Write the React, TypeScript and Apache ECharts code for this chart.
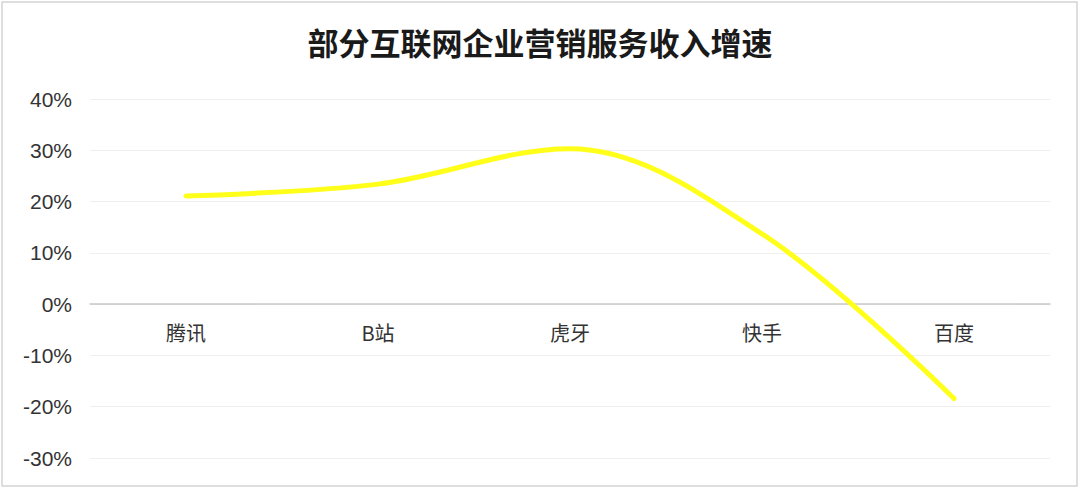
import React, { useEffect, useRef } from 'react';
import * as echarts from 'echarts';

const companies = ['腾讯', 'B站', '虎牙', '快手', '百度'];
const growthRates = [21.1, 23.4, 30.3, 13.7, -18.4];
const yTicks = { min: -30, max: 40, step: 10 };

const App: React.FC = () => {
  const chartRef = useRef<HTMLDivElement>(null);

  useEffect(() => {
    document.body.style.margin = '0';
    const chart = echarts.init(chartRef.current!, undefined, { renderer: 'svg' });

    // grid height 359px spans 70 points; the category axis is pulled up to y=0
    const gridTop = 99;
    const gridBottom = 30;
    const plotH = 488 - gridTop - gridBottom;
    const zeroOffset = (plotH * (0 - yTicks.min)) / (yTicks.max - yTicks.min);

    const options = {
      animation: false,
      backgroundColor: '#ffffff',
      title: {
        text: '部分互联网企业营销服务收入增速',
        left: 'center',
        top: 21,
        textStyle: {
          fontFamily: 'Noto Sans CJK SC',
          fontSize: 31,
          fontWeight: 'bold',
          color: '#1a1a1a',
        },
      },
      graphic: [
        {
          type: 'rect',
          shape: { x: 2, y: 2, width: 1075, height: 484 },
          style: { fill: 'none', stroke: '#d4d4d4', lineWidth: 1.5 },
        },
      ],
      grid: { left: 90, right: 30, top: gridTop, bottom: gridBottom, outerBoundsMode: 'none' },
      xAxis: {
        type: 'category',
        data: companies,
        offset: -zeroOffset,
        axisLine: { onZero: false, lineStyle: { color: '#c8c8c8', width: 1.5 } },
        axisTick: { show: false },
        axisLabel: {
          margin: 18,
          fontSize: 20,
          color: '#333',
          fontFamily: 'Noto Sans CJK SC',
        },
      },
      yAxis: {
        type: 'value',
        min: yTicks.min,
        max: yTicks.max,
        interval: yTicks.step,
        axisLine: { show: false },
        axisTick: { show: false },
        splitLine: { lineStyle: { color: '#efefef', width: 1 } },
        axisLabel: {
          margin: 18,
          fontSize: 21,
          color: '#333',
          fontFamily: 'Liberation Sans',
          formatter: (v: number) => `${v}%`,
        },
      },
      series: [
        {
          type: 'line',
          data: growthRates,
          smooth: 0.35,
          symbol: 'none',
          lineStyle: { color: '#ffff1a', width: 5, cap: 'round' },
        },
      ],
    };

    chart.setOption(options);

    return () => {
      chart.dispose();
    };
  }, []);

  return <div ref={chartRef} style={{ width: '1080px', height: '488px' }} />;
};

export default App;
